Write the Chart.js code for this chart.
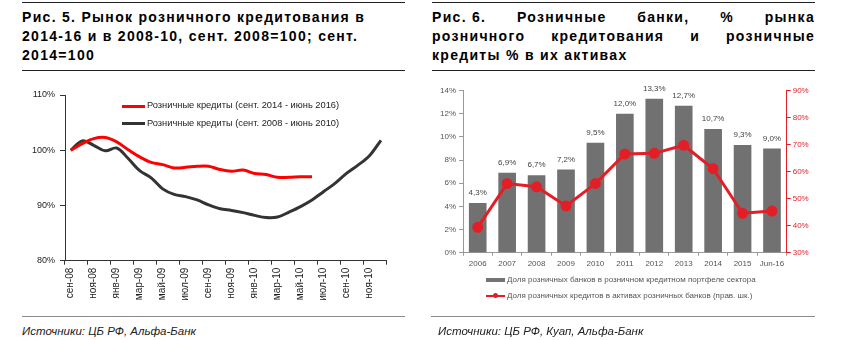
<!DOCTYPE html>
<html><head><meta charset="utf-8">
<script src="https://cdn.jsdelivr.net/npm/chart.js@4.4.1/dist/chart.umd.min.js"></script>
<style>
html,body{margin:0;padding:0;background:#fff;}
body{width:856px;height:340px;position:relative;overflow:hidden;font-family:"Liberation Sans",Arial,sans-serif;}
.rule{position:absolute;height:1px;background:#222;}
.rule.g{background:#8a8a8a;}
.title{position:absolute;font-weight:bold;font-size:14px;line-height:19px;color:#000;letter-spacing:1.3px;}
.title div{white-space:nowrap;}
.title .just{text-align:justify;text-align-last:justify;}
.title .ib{display:inline-block;}
.src{position:absolute;font-style:italic;font-size:11.5px;color:#222;white-space:nowrap;}
.lg{position:absolute;white-space:nowrap;}
.sw{position:absolute;}
canvas{position:absolute;}
</style></head><body>

<div class="rule" style="left:22px;top:2px;width:383px;"></div>
<div class="title" style="left:22px;top:8px;width:383px;">
<div>Рис. 5. Рынок розничного кредитования в</div>
<div>2014-16 и в 2008-10, сент. 2008=100; сент.</div>
<div>2014=100</div>
</div>
<div class="rule" style="left:22px;top:70px;width:383px;"></div>

<div class="rule" style="left:432px;top:2px;width:383px;"></div>
<div class="title" style="left:432px;top:8px;width:383px;">
<div class="just"><span class="ib">Рис. 6.</span> Розничные банки, % рынка</div>
<div class="just">розничного кредитования и розничные</div>
<div>кредиты % в их активах</div>
</div>
<div class="rule" style="left:432px;top:70px;width:383px;"></div>

<canvas id="c1" width="420" height="230" style="left:0;top:80px;"></canvas>
<canvas id="c2" width="428" height="198" style="left:428px;top:80px;"></canvas>

<div class="sw" style="left:122px;top:104.5px;width:23px;height:3px;background:#ff0000;"></div>
<div class="lg" style="left:147px;top:100px;font-size:9.3px;color:#222;">Розничные кредиты (сент. 2014 - июнь 2016)</div>
<div class="sw" style="left:122px;top:122px;width:23px;height:3px;background:#333;"></div>
<div class="lg" style="left:147px;top:117.5px;font-size:9.3px;color:#222;">Розничные кредиты (сент. 2008 - июнь 2010)</div>

<div class="sw" style="left:486px;top:278px;width:19px;height:4px;background:#747474;"></div>
<div class="lg" style="left:507px;top:275px;font-size:8px;color:#555;">Доля розничных банков в розничном кредитном портфеле сектора</div>
<div class="sw" style="left:486px;top:295px;width:19px;height:2px;background:#e31e26;"></div>
<div class="sw" style="left:493px;top:293px;width:5px;height:5px;border-radius:50%;background:#e31e26;"></div>
<div class="lg" style="left:507px;top:291px;font-size:8px;color:#555;">Доля розничных кредитов в активах розничных банков (прав. шк.)</div>

<div class="rule g" style="left:22px;top:316px;width:383px;"></div>
<div class="src" style="left:22px;top:325px;">Источники: ЦБ РФ, Альфа-Банк</div>
<div class="rule g" style="left:431px;top:316px;width:384px;"></div>
<div class="src" style="left:438px;top:325px;">Источники: ЦБ РФ, Куап, Альфа-Банк</div>

<script>
// ---- Chart 5 data ----
const months = ['сен-08','окт-08','ноя-08','дек-08','янв-09','фев-09','мар-09','апр-09','май-09','июн-09','июл-09','авг-09','сен-09','окт-09','ноя-09','дек-09','янв-10','фев-10','мар-10','апр-10','май-10','июн-10','июл-10','авг-10','сен-10','окт-10','ноя-10','дек-10'];
const credit2014 = [100,101.2,102.1,102.3,101.5,100.1,98.8,97.8,97.4,96.8,96.9,97.1,97.1,96.5,96.2,96.4,95.8,95.6,95.1,95.1,95.2,95.2];
const credit2008 = [100,101.7,100.9,99.9,100.4,98.5,96.3,95.0,93.0,92.0,91.6,91.0,90.1,89.4,89.1,88.7,88.2,87.8,87.9,88.8,89.8,91.0,92.5,94.0,95.8,97.3,99.0,101.8];
const leftAxisMin = 80, leftAxisMax = 110, leftAxisStep = 10;

// ---- Chart 6 data ----
const years = ['2006','2007','2008','2009','2010','2011','2012','2013','2014','2015','Jun-16'];
const shareRetailBanks = [4.3,6.9,6.7,7.2,9.5,12.0,13.3,12.7,10.7,9.3,9.0];
const retailLoansInAssets = [39.4,55.6,54.4,47.3,55.6,66.6,66.8,69.8,61.1,44.6,45.4];

Chart.defaults.font.family = '"Liberation Sans", Arial, sans-serif';

new Chart(document.getElementById('c1'), {
  type: 'line',
  data: { labels: months, datasets: [
    { label: 'Розничные кредиты (сент. 2014 - июнь 2016)', data: credit2014, borderColor: '#ff0000', borderWidth: 3, pointRadius: 0, tension: 0.35, fill: false },
    { label: 'Розничные кредиты (сент. 2008 - июнь 2010)', data: credit2008, borderColor: '#333333', borderWidth: 3, pointRadius: 0, tension: 0.35, fill: false }
  ]},
  options: {
    responsive: false, animation: false, devicePixelRatio: 1,
    layout: { padding: { top: 15, right: 33.3, left: 0, bottom: 0 } },
    plugins: { legend: { display: false }, tooltip: { enabled: false } },
    scales: {
      x: {
        offset: true,
        grid: { offset: true, drawOnChartArea: false, tickLength: 4,
          tickColor: ctx => (ctx.index === undefined || ctx.index % 2 === 0) ? '#333' : 'rgba(0,0,0,0)' },
        border: { color: '#333', width: 1 },
        ticks: { autoSkip: false, maxRotation: 90, minRotation: 90, padding: 3, color: '#222', font: { size: 10 },
          callback: function (v, i) { return i % 2 === 0 ? this.getLabelForValue(v) : ''; } },
        afterFit: s => { s.height = 49.3; }
      },
      y: {
        min: leftAxisMin, max: leftAxisMax,
        ticks: { stepSize: leftAxisStep, callback: v => v + '%', color: '#222', font: { size: 9 }, padding: 5 },
        grid: { drawOnChartArea: false, tickLength: 5, tickColor: '#333' },
        border: { color: '#333' },
        afterFit: s => { s.width = 65; }
      }
    }
  }
});

const barLabels = {
  id: 'barLabels',
  afterDatasetsDraw(chart) {
    const meta = chart.getDatasetMeta(1);
    const ctx = chart.ctx;
    ctx.save();
    ctx.font = '8px "Liberation Sans", Arial, sans-serif';
    ctx.fillStyle = '#444';
    ctx.textAlign = 'center';
    ctx.textBaseline = 'middle';
    meta.data.forEach((el, i) => {
      const v = chart.data.datasets[1].data[i];
      ctx.fillText(v.toFixed(1).replace('.', ',') + '%', el.x, el.y - 10);
    });
    ctx.restore();
  }
};

new Chart(document.getElementById('c2'), {
  type: 'bar',
  data: { labels: years, datasets: [
    { type: 'line', label: 'Доля розничных кредитов в активах розничных банков (прав. шк.)', data: retailLoansInAssets, yAxisID: 'y1',
      borderColor: '#e31e26', backgroundColor: '#e31e26', borderWidth: 3, pointRadius: 4, pointStyle: 'circle', tension: 0, order: 0 },
    { type: 'bar', label: 'Доля розничных банков в розничном кредитном портфеле сектора', data: shareRetailBanks, yAxisID: 'y',
      backgroundColor: '#717171', barPercentage: 0.6, categoryPercentage: 1, order: 1 }
  ]},
  options: {
    responsive: false, animation: false, devicePixelRatio: 1,
    layout: { padding: { top: 10.7, left: 0, right: 0, bottom: 0 } },
    plugins: { legend: { display: false }, tooltip: { enabled: false } },
    scales: {
      x: {
        offset: true,
        grid: { offset: true, drawOnChartArea: false, tickLength: 3, tickColor: '#999' },
        border: { color: '#999' },
        ticks: { autoSkip: false, maxRotation: 0, color: '#555', font: { size: 8 }, padding: 3 },
        afterFit: s => { s.height = 25.3; }
      },
      y: {
        position: 'left', min: 0, max: 14,
        ticks: { stepSize: 2, callback: v => v + '%', color: '#555', font: { size: 8 }, padding: 3 },
        grid: { drawOnChartArea: false, tickLength: 4, tickColor: '#999' },
        border: { color: '#999' },
        afterFit: s => { s.width = 35; }
      },
      y1: {
        position: 'right', min: 30, max: 90,
        ticks: { stepSize: 10, callback: v => v + '%', color: '#e31e26', font: { size: 8 }, padding: 2 },
        grid: { drawOnChartArea: false, tickLength: 4, tickColor: '#e31e26' },
        border: { color: '#e31e26' },
        afterFit: s => { s.width = 69.3; }
      }
    }
  },
  plugins: [barLabels]
});
</script>
</body></html>
